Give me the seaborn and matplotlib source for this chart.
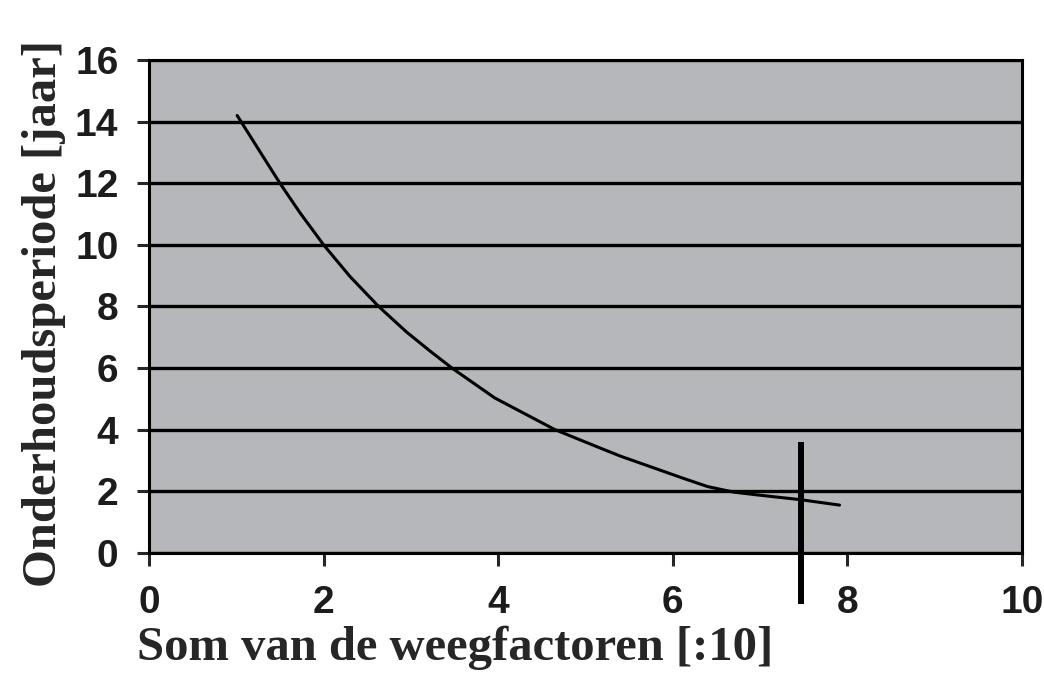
import seaborn as sns
import pandas as pd
import matplotlib.pyplot as plt

som_weegfactoren = [1.01, 1.23, 1.50, 1.73, 2.0, 2.3, 2.63, 2.95, 3.22, 3.47, 3.96, 4.65,
                    5.17, 5.40, 5.74, 6.12, 6.4, 6.7, 7.0, 7.45, 7.91]
onderhoudsperiode = [14.2, 13.21, 12.0, 11.04, 10.0, 8.98, 8.0, 7.17, 6.55, 6.0, 5.03, 4.0,
                     3.40, 3.14, 2.80, 2.42, 2.15, 1.97, 1.87, 1.73, 1.55]

# verticale markering
marker_x = [7.47, 7.47]
marker_y = [-1.65, 3.59]

x_ticks = [0, 2, 4, 6, 8, 10]
y_ticks = [0, 2, 4, 6, 8, 10, 12, 14, 16]

df = pd.DataFrame({'x': som_weegfactoren, 'y': onderhoudsperiode})

sns.set_style('ticks', {'axes.facecolor': '#b6b7ba', 'axes.edgecolor': 'black'})
plt.rcParams['font.family'] = ['Liberation Sans', 'DejaVu Sans']

fig = plt.figure(figsize=(10.44, 6.82), dpi=100)
ax = fig.add_axes([0.1427, 0.1894, 0.8362, 0.7226])

sns.lineplot(data=df, x='x', y='y', sort=False, color='black', linewidth=2.2, ax=ax)
ax.plot(marker_x, marker_y, color='black', linewidth=4.3, clip_on=False, solid_capstyle='butt')

ax.set_xlim(0, 10)
ax.set_ylim(0, 16)
ax.set_xticks(x_ticks)
ax.set_yticks(y_ticks)
ax.yaxis.grid(True, color='black', linewidth=2.4)
ax.set_axisbelow(True)
for s in ax.spines.values():
    s.set_linewidth(2.2)
    s.set_color('black')

ax.tick_params(axis='both', direction='out', length=9, width=2.2, labelsize=28)
ax.tick_params(axis='x', pad=14)
ax.tick_params(axis='y', pad=13)
for lab in ax.get_xticklabels() + ax.get_yticklabels():
    lab.set_fontweight('bold')
    lab.set_color('#1c1c1c')

lbl = dict(family=['Liberation Serif', 'DejaVu Serif'], fontweight='bold', fontsize=35)
ax.set_xlabel('Som van de weegfactoren [:10]', ha='left', **lbl)
ax.xaxis.set_label_coords(-0.014, -0.148)
ax.set_ylabel('Onderhoudsperiode [jaar]', **lbl)
ax.yaxis.set_label_coords(-0.095, 0.485)

fig.savefig('out.png', dpi=100, facecolor='white')
